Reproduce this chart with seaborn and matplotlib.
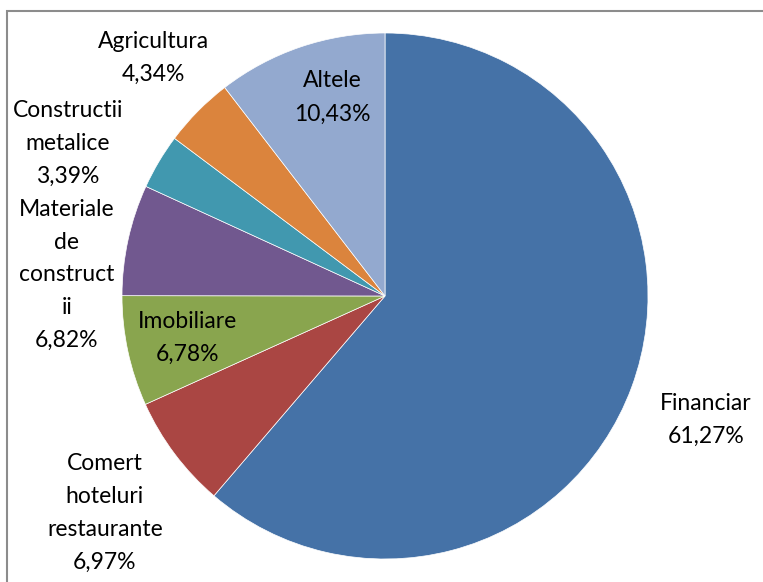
import matplotlib
matplotlib.use("Agg")
import matplotlib.pyplot as plt
import seaborn as sns

# Data, in drawing order (clockwise from 12 o'clock)
sectors = ["Financiar", "Comert\nhoteluri\nrestaurante", "Imobiliare",
           "Materiale\nde\nconstruct\nii", "Constructii\nmetalice",
           "Agricultura", "Altele"]
shares = [61.27, 6.97, 6.78, 6.82, 3.39, 4.34, 10.43]
colors = ["#4572A7", "#AA4643", "#89A54E", "#71588F", "#4198AF",
          "#DB843D", "#93A9CF"]

# Label anchor positions (pie radius = 1)
label_pos = [(1.22, -0.47), (-1.065, -0.825), (-0.75, -0.16), (-1.21, 0.08),
             (-1.205, 0.58), (-0.88, 0.905), (-0.2, 0.755)]

sns.set_theme(style="white")
plt.rcParams["font.family"] = ["Lato", "DejaVu Sans"]

fig = plt.figure(figsize=(7.63, 5.82), dpi=100)
fig.patch.set_facecolor("white")

# chart frame (Excel style, right/bottom cropped)
frame = plt.Rectangle((6.5 / 763, -0.1), 1.2, 1 - 11 / 582 + 0.1,
                      transform=fig.transFigure, fill=False,
                      edgecolor="#8c8c8c", linewidth=1.5)
fig.patches.append(frame)

ax = fig.add_axes([122 / 763, 23 / 582, 526 / 763, 526 / 582])
wedges, _ = ax.pie(shares, colors=colors, startangle=90, counterclock=False,
                   wedgeprops=dict(edgecolor="white", linewidth=0.5))
ax.set_xlim(-1, 1)
ax.set_ylim(-1, 1)
ax.set_aspect("auto")
ax.axis("off")

for name, val, (x, y) in zip(sectors, shares, label_pos):
    txt = f"{name}\n{val:.2f}%".replace(".", ",")
    ax.text(x, y, txt, ha="center", va="center", fontsize=16.5,
            color="black", linespacing=1.7, clip_on=False)

fig.savefig("out.png", dpi=100)
